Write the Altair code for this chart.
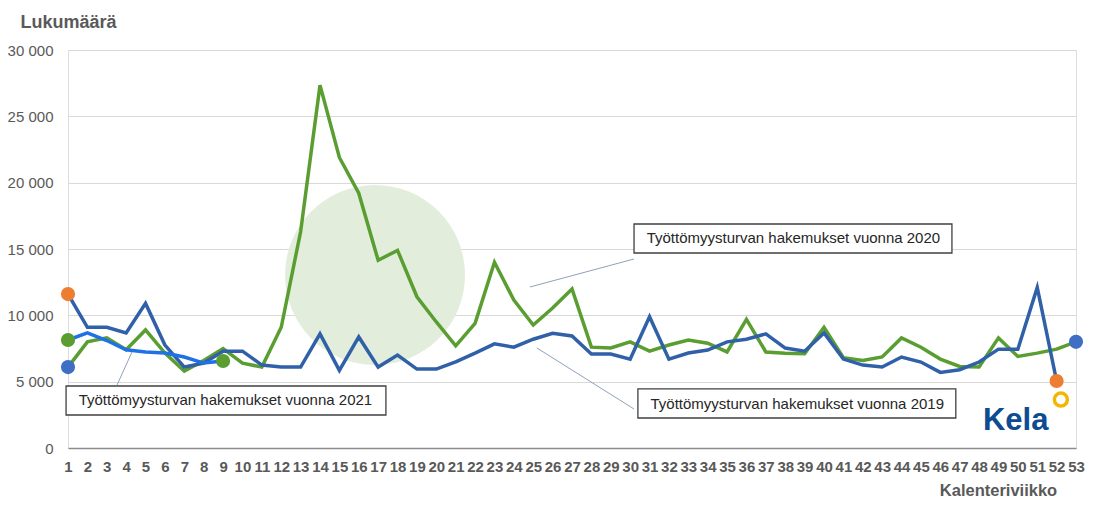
import altair as alt
import pandas as pd

weeks = list(range(1, 54))
tick_weeks = list(range(1, 54))
y_ticks = [0, 5000, 10000, 15000, 20000, 25000, 30000]

s2019 = [11600, 9100, 9100, 8670, 10900, 7760, 6100, 6400, 7300, 7300,
         6250, 6100, 6100, 8600, 5850, 8370, 6100, 7000, 5950, 5950,
         6500, 7150, 7850, 7600, 8200, 8650, 8440, 7080, 7080, 6700,
         9900, 6700, 7160, 7380, 8000, 8200, 8600, 7530, 7300, 8670,
         6700, 6250, 6100, 6860, 6480, 5700, 5900, 6480, 7450, 7450,
         12100, 5050]
s2020 = [6100, 8000, 8300, 7400, 8900, 7150, 5800, 6600, 7500, 6400,
         6100, 9100, 16300, 27350, 21900, 19200, 14150, 14900, 11400, 9500,
         7700, 9400, 14000, 11150, 9270, 10550, 11980, 7600, 7540, 8000,
         7300, 7760, 8140, 7900, 7240, 9700, 7240, 7150, 7100, 9100,
         6800, 6600, 6860, 8300, 7600, 6700, 6150, 6100, 8300, 6900,
         7150, 7450, 8000]
s2021 = [8140, 8670, 8100, 7400, 7230, 7160, 6860, 6400, 6560]

labels = ["Työttömyysturvan hakemukset vuonna 2019",
          "Työttömyysturvan hakemukset vuonna 2020",
          "Työttömyysturvan hakemukset vuonna 2021"]

df19 = pd.DataFrame({"w": weeks[:len(s2019)], "v": s2019})
df20 = pd.DataFrame({"w": weeks[:len(s2020)], "v": s2020})
df21 = pd.DataFrame({"w": weeks[:len(s2021)], "v": s2021})

dots = pd.DataFrame({
    "w": [1, len(s2019), 1, len(s2020), 1, len(s2021)],
    "v": [s2019[0], s2019[-1], s2020[0], s2020[-1], s2021[0], s2021[-1]],
    "k": ["a", "a", "b", "b", "c", "c"],
})

# annotation geometry (data units)
boxes = pd.DataFrame({
    "w": [30.4, 30.2, 0.9], "x2": [46.8, 46.6, 17.4],
    "v": [4450, 16885, 4674], "y2": [2260, 14700, 2488],
    "tx": [31.05, 30.85, 1.55], "ty": [3354, 15792, 3581],
    "t": labels,
})
leaders = pd.DataFrame({
    "w": [25.19, 24.83, 4.3], "x2": [30.2, 30.2, 3.53],
    "v": [7538, 12136, 7236], "y2": [2940, 14247, 4749],
})
bubble = pd.DataFrame({"w": [16.84], "v": [13040]})
logo = pd.DataFrame({"w": [48.2], "v": [1357], "t": ["Kela"]})
logo_icon = pd.DataFrame({"w": [52.22], "v": [3650]})

xs = alt.Scale(domain=[1, 53], nice=False, zero=False)
ys = alt.Scale(domain=[0, 30000], nice=False)

xaxis = alt.Axis(
    values=tick_weeks, title="Kalenteriviikko", grid=False, ticks=False,
    labelOverlap=False, labelFontSize=15, labelFontWeight="bold",
    labelColor="#595959", labelPadding=11, labelFont="Liberation Sans",
    domainColor="#8c8c8c", domainWidth=1.5, labelFlush=False, labelBound=False,
    titleFontSize=16.5, titleFontWeight="bold", titleColor="#595959",
    titleX=930, titleY=47, titleAlign="center", titleBaseline="alphabetic",
    titleFont="Liberation Sans")
yaxis = alt.Axis(
    values=y_ticks, title="Lukumäärä", grid=True, gridColor="#d9d9d9",
    domain=False, ticks=False, labelFontSize=15, labelColor="#595959",
    labelPadding=15, labelFont="Liberation Sans",
    labelExpr="replace(format(datum.value, ','), ',', ' ')",
    titleAngle=0, titleX=-48, titleY=-23, titleAlign="left",
    titleBaseline="alphabetic", titleFontSize=18, titleFontWeight="bold",
    titleColor="#595959", titleFont="Liberation Sans")

X = alt.X("w:Q", scale=xs, axis=xaxis)
Y = alt.Y("v:Q", scale=ys, axis=yaxis)

bub = alt.Chart(bubble).mark_point(filled=True, shape="circle", size=32400,
                                   color="#e2eedb", opacity=1).encode(x=X, y=Y)

l20 = alt.Chart(df20).mark_line(color="#5a9e32", strokeWidth=3.5).encode(x=X, y=Y)
l19 = alt.Chart(df19).mark_line(color="#3060a8", strokeWidth=3.5).encode(x=X, y=Y)
l21 = alt.Chart(df21).mark_line(color="#1f72e6", strokeWidth=3.5).encode(x=X, y=Y)

pts = alt.Chart(dots).mark_point(filled=True, shape="circle", size=200, opacity=1).encode(
    x=X, y=Y,
    color=alt.Color("k:N", scale=alt.Scale(domain=["a", "b", "c"],
                                           range=["#ed7d31", "#3f6fc4", "#5a9e32"]),
                    legend=None))

lead = alt.Chart(leaders).mark_rule(color="#8fa2bb", strokeWidth=1).encode(
    x=X, x2="x2:Q", y=Y, y2="y2:Q")

box = alt.Chart(boxes).mark_rect(fill="white", stroke="#404040", strokeWidth=1.3).encode(
    x=X, x2="x2:Q", y=Y, y2="y2:Q")

btxt = alt.Chart(boxes).mark_text(align="left", baseline="middle", fontSize=15,
                                  color="#262626", font="Liberation Sans").encode(
    x=alt.X("tx:Q", scale=xs, axis=xaxis), y=alt.Y("ty:Q", scale=ys, axis=yaxis),
    text="t:N")

kela = alt.Chart(logo).mark_text(align="left", baseline="alphabetic", fontSize=31,
                                 fontWeight="bold", color="#0e4c92",
                                 font="Liberation Sans").encode(x=X, y=Y, text="t:N")

icon = alt.Chart(logo_icon).mark_point(shape="circle", size=170, filled=False,
                                       stroke="#f2b705", strokeWidth=3.5, opacity=1).encode(
    x=X, y=Y)

chart = alt.layer(bub, l20, l19, l21, pts, lead, box, btxt, kela, icon).properties(
    width=1008, height=398,
    padding={"left": 60, "top": 42, "right": 14, "bottom": 52},
    autosize=alt.AutoSizeParams(type="none"),
).configure_view(stroke=None).configure_axisX(labelOverlap=False).configure(
    background="white")

chart.save("out.html", embed_options={"renderer": "svg", "actions": False})
